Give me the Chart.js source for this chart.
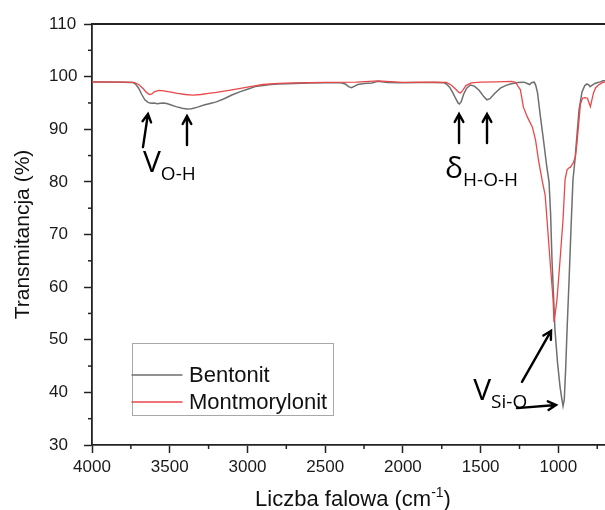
<!DOCTYPE html>
<html>
<head>
<meta charset="utf-8">
<script src="https://cdn.jsdelivr.net/npm/chart.js@4.4.0/dist/chart.umd.min.js"></script>
<style>
  html, body { margin: 0; padding: 0; background: #fff; }
  canvas { display: block; }
</style>
</head>
<body>
<canvas id="ftir" width="605" height="510"></canvas>
<script>
// series (wavenumber in cm-1, transmittance in %)
const seriesNames = ["Bentonit", "Montmorylonit"];

const bentonitWave = [4000, 3900, 3800, 3740, 3720, 3700, 3680, 3660, 3640, 3620, 3600, 3580, 3560, 3540, 3520, 3500,
  3460, 3420, 3390, 3360, 3320, 3280, 3240, 3200, 3150, 3100, 3050, 3000, 2950, 2900, 2850, 2800, 2700, 2600, 2500,
  2400, 2370, 2350, 2330, 2310, 2290, 2250, 2200, 2160, 2100, 2000, 1900, 1800, 1740, 1720, 1700, 1680, 1660, 1645,
  1637, 1625, 1610, 1590, 1566, 1540, 1510, 1480, 1460, 1440, 1410, 1373, 1340, 1309, 1260, 1220, 1200, 1185, 1170,
  1155, 1145, 1134, 1115, 1096, 1075, 1060, 1050, 1041, 1032, 1022, 1005, 989, 978, 970, 962, 953, 944, 931, 919,
  906, 893, 880, 867, 848, 830, 816, 803, 796, 782, 765, 751, 730, 713, 700];
const bentonitT = [99.0, 99.0, 98.95, 98.9, 98.6, 97.8, 96.6, 95.6, 95.1, 94.95, 95.0, 94.85, 94.95, 95.0, 94.9, 94.7,
  94.3, 94.0, 93.85, 93.9, 94.2, 94.6, 94.9, 95.2, 95.8, 96.5, 97.1, 97.6, 98.1, 98.3, 98.5, 98.6, 98.7, 98.8, 98.85,
  98.85, 98.6, 98.1, 97.9, 98.2, 98.5, 98.7, 98.8, 99.1, 98.9, 98.85, 98.9, 98.9, 98.85, 98.6, 98.0, 97.0, 95.8, 95.0,
  94.8, 95.2, 96.6, 97.8, 98.4, 98.2, 97.4, 96.2, 95.6, 95.8, 96.8, 97.8, 98.3, 98.6, 98.9, 98.95, 98.7, 98.5, 98.9,
  98.95, 98.3, 96.9, 92.3, 88.0, 83.0, 80.0, 74.0, 65.2, 59.0, 51.9, 45.5, 41.0, 38.8, 37.4, 38.6, 44.5, 51.9, 61.4, 70.9,
  80.4, 84.2, 89.0, 93.7, 97.1, 98.3, 98.6, 98.4, 98.1, 98.4, 98.7, 98.85, 99.0, 99.2, 99.2];

const montWave = [4000, 3800, 3730, 3700, 3670, 3650, 3630, 3615, 3600, 3570, 3540, 3500, 3450, 3400, 3350, 3300, 3250,
  3200, 3100, 3000, 2900, 2800, 2700, 2500, 2300, 2160, 2000, 1800, 1720, 1690, 1660, 1640, 1630, 1615, 1595, 1560,
  1500, 1400, 1300, 1275, 1260, 1244, 1225, 1199, 1167, 1147, 1128, 1105, 1085, 1073, 1054, 1034, 1028, 1020, 1009,
  989, 970, 957, 945, 935, 922, 905, 890, 880, 871, 858, 845, 830, 813, 800, 794, 785, 774, 760, 742, 720, 700];
const montT = [99.0, 98.95, 98.9, 98.5, 97.7, 97.0, 96.6, 96.7, 97.1, 97.4, 97.3, 97.1, 96.8, 96.6, 96.5, 96.6, 96.8,
  97.0, 97.5, 98.0, 98.5, 98.7, 98.8, 98.9, 98.95, 99.2, 98.9, 98.95, 98.9, 98.4, 97.6, 97.0, 96.9, 97.4, 98.3, 98.8,
  98.95, 99.0, 99.1, 98.9, 98.2, 97.5, 94.2, 92.3, 90.4, 88.0, 84.2, 80.4, 77.5, 72.8, 65.2, 57.6, 53.4, 55.0, 57.6,
  65.2, 72.8, 80.4, 82.2, 82.6, 82.8, 83.6, 84.8, 87.5, 90.5, 94.8, 95.9, 96.0, 95.9, 94.8, 94.3, 95.5, 96.9, 97.9,
  98.4, 98.8, 99.0];

// band labels and arrows, in data units [wavenumber, transmittance]
const bandLabels = [
  { main: "V", sub: "O-H", at: [3672, 81.9] },
  { main: "\u03B4", sub: "H-O-H", at: [1729, 80.7] },
  { main: "V", sub: "Si-O", at: [1548, 38.6] }
];
const bandArrows = [
  [3672, 86.6, 3640, 92.9],
  [3389, 87.0, 3389, 92.5],
  [1639, 87.4, 1639, 92.9],
  [1459, 87.4, 1459, 92.9],
  [1234, 42.0, 1047, 51.7],
  [1266, 37.0, 1015, 37.6]
];

const majorX = [1000, 1500, 2000, 2500, 3000, 3500, 4000];
const minorX = [750, 1250, 1750, 2250, 2750, 3250, 3750];
const minorY = [35, 45, 55, 65, 75, 85, 95, 105];

const lineColors = ["#6f6f6f", "#e9484b"];
const axisColor = "#222";
const sansFont = "'Liberation Sans', Arial, sans-serif";
const noteFont = "'Open Sans', 'Noto Sans', sans-serif";

const toPoints = (xs, ys) => xs.map((v, i) => ({ x: v, y: ys[i] }));

function arrow(ctx, x1, y1, x2, y2) {
  const ang = Math.atan2(y2 - y1, x2 - x1);
  const head = 9;
  ctx.beginPath();
  ctx.moveTo(x1, y1);
  ctx.lineTo(x2, y2);
  ctx.moveTo(x2 - head * Math.cos(ang - 0.5), y2 - head * Math.sin(ang - 0.5));
  ctx.lineTo(x2, y2);
  ctx.lineTo(x2 - head * Math.cos(ang + 0.5), y2 - head * Math.sin(ang + 0.5));
  ctx.stroke();
}

const ftirDecor = {
  id: "ftirDecor",
  afterDraw(chart) {
    const { ctx, chartArea: a } = chart;
    const sx = chart.scales.x, sy = chart.scales.y;
    ctx.save();

    // top of the frame
    ctx.strokeStyle = axisColor;
    ctx.lineWidth = 1.8;
    ctx.beginPath();
    ctx.moveTo(a.left - 0.9, a.top);
    ctx.lineTo(a.right, a.top);
    ctx.stroke();

    // minor ticks
    ctx.lineWidth = 1.5;
    minorX.forEach(v => {
      const px = sx.getPixelForValue(v);
      ctx.beginPath(); ctx.moveTo(px, a.bottom); ctx.lineTo(px, a.bottom + 4); ctx.stroke();
    });
    minorY.forEach(v => {
      const py = sy.getPixelForValue(v);
      ctx.beginPath(); ctx.moveTo(a.left, py); ctx.lineTo(a.left - 4, py); ctx.stroke();
    });

    // arrows
    ctx.strokeStyle = "#000";
    ctx.lineWidth = 2.4;
    ctx.lineCap = "round";
    bandArrows.forEach(([x1, y1, x2, y2]) => {
      arrow(ctx, sx.getPixelForValue(x1), sy.getPixelForValue(y1), sx.getPixelForValue(x2), sy.getPixelForValue(y2));
    });

    // band labels with subscripts
    ctx.fillStyle = "#000";
    ctx.textBaseline = "alphabetic";
    ctx.textAlign = "left";
    bandLabels.forEach(l => {
      const px = sx.getPixelForValue(l.at[0]);
      const py = sy.getPixelForValue(l.at[1]);
      ctx.font = "30px " + noteFont;
      ctx.fillText(l.main, px, py);
      const w = ctx.measureText(l.main).width;
      ctx.font = "19px " + noteFont;
      ctx.fillText(l.sub, px + w, py + 8);
    });

    // legend box
    const lx = a.left + 40, ly = a.top + 319, lw = 201, lh = 72;
    ctx.strokeStyle = "#a8a8a8";
    ctx.lineWidth = 1;
    ctx.strokeRect(lx + 0.5, ly + 0.5, lw, lh);
    ctx.font = "22px " + sansFont;
    ctx.textBaseline = "middle";
    chart.data.datasets.forEach((ds, i) => {
      const yy = ly + 32 + i * 27;
      ctx.strokeStyle = ds.borderColor;
      ctx.lineWidth = 1.4;
      ctx.beginPath(); ctx.moveTo(lx, yy); ctx.lineTo(lx + 50, yy); ctx.stroke();
      ctx.fillStyle = "#111";
      ctx.fillText(ds.label, lx + 57, yy + 1);
    });

    // axis titles
    ctx.fillStyle = "#111";
    ctx.textBaseline = "alphabetic";
    ctx.font = "22px " + sansFont;
    const t1 = "Liczba falowa (cm", t3 = ")";
    const w1 = ctx.measureText(t1).width, w3 = ctx.measureText(t3).width;
    ctx.font = "14px " + sansFont;
    const t2 = "-1", w2 = ctx.measureText(t2).width;
    let tx = a.left + 261 - (w1 + w2 + w3) / 2;
    const ty = 506;
    ctx.font = "22px " + sansFont;
    ctx.fillText(t1, tx, ty);
    ctx.font = "14px " + sansFont;
    ctx.fillText(t2, tx + w1, ty - 9);
    ctx.font = "22px " + sansFont;
    ctx.fillText(t3, tx + w1 + w2, ty);

    ctx.translate(23, (a.top + a.bottom) / 2);
    ctx.rotate(-Math.PI / 2);
    ctx.textAlign = "center";
    ctx.textBaseline = "middle";
    ctx.font = "21px " + sansFont;
    ctx.fillText("Transmitancja (%)", 0, 0);

    ctx.restore();
  }
};

const tickFont = { family: sansFont, size: 17 };

new Chart(document.getElementById("ftir"), {
  type: "line",
  data: {
    datasets: [
      {
        label: seriesNames[0],
        data: toPoints(bentonitWave, bentonitT),
        borderColor: lineColors[0],
        borderWidth: 1.5,
        pointRadius: 0,
        tension: 0,
        order: 1
      },
      {
        label: seriesNames[1],
        data: toPoints(montWave, montT),
        borderColor: lineColors[1],
        borderWidth: 1.3,
        pointRadius: 0,
        tension: 0,
        order: 0
      }
    ]
  },
  options: {
    responsive: false,
    animation: false,
    layout: { padding: { left: 49, top: 24, right: 0, bottom: 0 } },
    plugins: { legend: { display: false }, tooltip: { enabled: false } },
    scales: {
      x: {
        type: "linear",
        reverse: true,
        min: 700,
        max: 4000,
        afterBuildTicks(s) { s.ticks = majorX.map(v => ({ value: v })); },
        ticks: { padding: 4, color: "#1a1a1a", font: tickFont, maxRotation: 0, autoSkip: false, callback: v => String(v) },
        grid: { drawOnChartArea: false, tickLength: 8, tickWidth: 1.5, tickColor: axisColor },
        border: { color: axisColor, width: 1.8 },
        afterFit(s) { s.height = 65; }
      },
      y: {
        min: 30,
        max: 110,
        ticks: { stepSize: 10, crossAlign: "far", color: "#1a1a1a", font: tickFont },
        grid: { drawOnChartArea: false, tickLength: 8, tickWidth: 1.5, tickColor: axisColor },
        border: { color: axisColor, width: 1.8 },
        afterFit(s) { s.width = 43; }
      }
    }
  },
  plugins: [ftirDecor]
});
</script>
</body>
</html>
